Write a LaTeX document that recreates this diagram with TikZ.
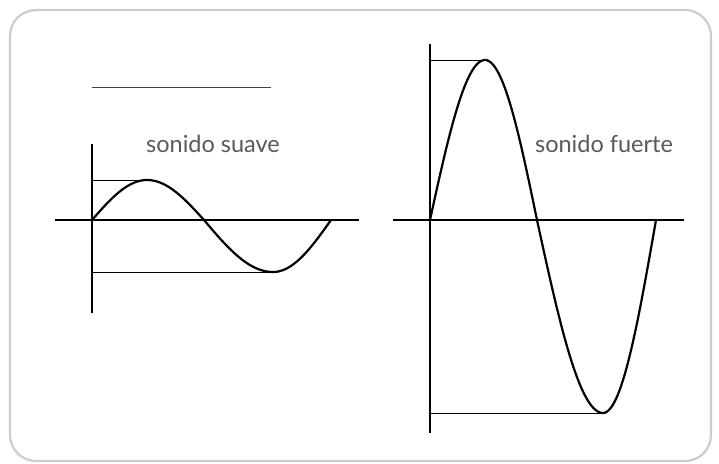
\documentclass[tikz,border=0pt]{standalone}
\usepackage{fontspec}
\setmainfont{Lato}
\begin{document}
\begin{tikzpicture}[x=1pt,y=-1pt,
  axis/.style={line width=2.2pt,black},
  guide/.style={line width=1pt,black},
  wave/.style={line width=2.2pt,black,line join=round},
  lbl/.style={text=black!65,font=\fontsize{23.5}{26}\selectfont,inner sep=0pt}]
\useasboundingbox (0,0) rectangle (719,463);
\draw[black!20,line width=2.2pt,rounded corners=26pt] (10,10) rectangle (711,461);
% blank line
\coordinate (b1) at (92,87); \coordinate (b2) at (271,87);
\draw[line width=1pt,black!75] (b1) -- (b2);
% left graph
\coordinate (ly1) at (92,144); \coordinate (ly2) at (92,313);
\coordinate (lx1) at (55,220); \coordinate (lx2) at (359,220);
\draw[axis] (ly1) -- (ly2);
\draw[axis] (lx1) -- (lx2);
\coordinate (lo) at (92,220); \coordinate (lp) at (147,180);
\coordinate (lz) at (204,220); \coordinate (lt) at (273,272); \coordinate (le) at (331,220);
\draw[guide] (92,180) -- (lp);
\draw[guide] (92,272) -- (lt);
\draw[wave] plot[domain=0:1,samples=30,smooth] ({92+55*\x},{220-40*sin(90*\x)})
  -- plot[domain=0:1,samples=30,smooth] ({147+57*\x},{220-40*cos(90*\x)})
  -- plot[domain=0:1,samples=30,smooth] ({204+69*\x},{220+52*sin(90*\x)})
  -- plot[domain=0:1,samples=30,smooth] ({273+58*\x},{220+52*cos(90*\x)});
\node[lbl] (ls) at (213,144) {sonido suave};
% right graph
\coordinate (ry1) at (430,44); \coordinate (ry2) at (430,433);
\coordinate (rx1) at (393,220); \coordinate (rx2) at (684,220);
\draw[axis] (ry1) -- (ry2);
\draw[axis] (rx1) -- (rx2);
\coordinate (rp) at (485,60); \coordinate (rt) at (603,413);
\draw[guide] (430,60) -- (rp);
\draw[guide] (430,413) -- (rt);
\draw[wave] plot[domain=0:1,samples=30,smooth] ({430+55*\x},{220-160*sin(90*\x)})
  -- plot[domain=0:1,samples=30,smooth] ({485+52*\x},{220-160*cos(90*\x)})
  -- plot[domain=0:1,samples=30,smooth] ({537+66*\x},{220+193*sin(90*\x)})
  -- plot[domain=0:1,samples=30,smooth] ({603+53*\x},{220+193*cos(90*\x)});
\node[lbl] (rs) at (604,144) {sonido fuerte};
\end{tikzpicture}
\end{document}
